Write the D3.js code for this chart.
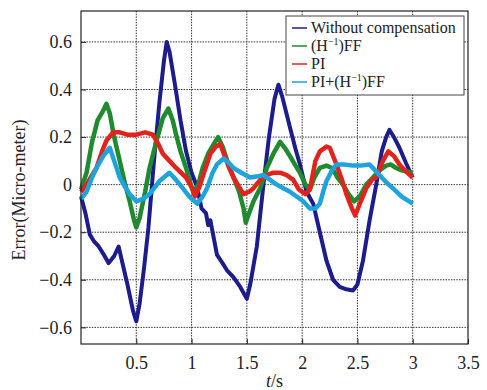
<!DOCTYPE html>
<html>
<head>
<meta charset="utf-8">
<script src="https://cdn.jsdelivr.net/npm/d3@7"></script>
<style>
  body { margin: 0; background: #fff; }
  svg text { font-family: "Liberation Serif", "DejaVu Serif", serif; fill: #222; }
  .grid line { stroke: #333; stroke-dasharray: 1.5,1.2; stroke-width: 1; }
  .axis .domain { display: none; }
  .axis text { font-size: 18px; }
</style>
</head>
<body>
<svg id="chart"></svg>
<script>
// values: [time (s), error (micro-meter)]
const withoutComp = [[0,-0.05],[0.04,-0.12],[0.08,-0.21],[0.12,-0.24],[0.16,-0.26],[0.2,-0.29],[0.25,-0.33],[0.3,-0.3],[0.34,-0.26],[0.36,-0.3],[0.42,-0.42],[0.47,-0.53],[0.5,-0.575],[0.53,-0.5],[0.57,-0.35],[0.61,-0.18],[0.66,0.1],[0.71,0.35],[0.75,0.52],[0.775,0.6],[0.8,0.56],[0.85,0.42],[0.9,0.27],[0.95,0.14],[1.0,0.05],[1.05,-0.01],[1.09,-0.1],[1.13,-0.12],[1.15,-0.17],[1.17,-0.15],[1.23,-0.295],[1.28,-0.33],[1.32,-0.36],[1.38,-0.39],[1.44,-0.43],[1.5,-0.48],[1.53,-0.42],[1.59,-0.26],[1.65,0],[1.7,0.2],[1.75,0.36],[1.785,0.42],[1.82,0.37],[1.89,0.24],[1.94,0.15],[1.98,0.085],[2.04,-0.03],[2.1,-0.08],[2.16,-0.2],[2.22,-0.32],[2.28,-0.4],[2.34,-0.43],[2.4,-0.44],[2.46,-0.445],[2.5,-0.42],[2.55,-0.32],[2.61,-0.15],[2.67,0],[2.72,0.14],[2.76,0.2],[2.79,0.23],[2.83,0.2],[2.88,0.155],[2.94,0.09],[3.0,0.03]];
const invFF = [[0,-0.02],[0.05,0.05],[0.1,0.18],[0.15,0.27],[0.2,0.31],[0.23,0.34],[0.26,0.3],[0.3,0.2],[0.35,0.1],[0.4,0.0],[0.44,-0.07],[0.48,-0.15],[0.5,-0.18],[0.53,-0.14],[0.58,-0.03],[0.62,0.07],[0.68,0.18],[0.74,0.28],[0.79,0.32],[0.83,0.27],[0.86,0.21],[0.9,0.14],[0.95,0.07],[1.0,-0.01],[1.02,-0.03],[1.06,0.0],[1.1,0.07],[1.15,0.13],[1.2,0.17],[1.24,0.2],[1.28,0.16],[1.33,0.09],[1.38,0.03],[1.43,-0.03],[1.47,-0.1],[1.49,-0.16],[1.52,-0.12],[1.56,-0.07],[1.62,-0.015],[1.68,0.07],[1.74,0.13],[1.8,0.18],[1.85,0.15],[1.89,0.12],[1.94,0.08],[1.98,0.05],[2.03,0.0],[2.07,-0.02],[2.11,0.03],[2.16,0.07],[2.22,0.08],[2.27,0.07],[2.32,0.03],[2.37,0.0],[2.42,-0.04],[2.47,-0.07],[2.52,-0.05],[2.58,0.0],[2.64,0.03],[2.7,0.06],[2.76,0.08],[2.8,0.085],[2.85,0.07],[2.9,0.06],[3.0,0.05]];
const piCtrl = [[0,-0.03],[0.05,0.0],[0.1,0.04],[0.14,0.07],[0.19,0.14],[0.23,0.185],[0.29,0.22],[0.35,0.22],[0.42,0.21],[0.5,0.21],[0.58,0.22],[0.65,0.21],[0.7,0.17],[0.74,0.13],[0.8,0.1],[0.86,0.07],[0.95,0.03],[1.0,-0.01],[1.03,-0.05],[1.07,-0.01],[1.12,0.06],[1.17,0.13],[1.22,0.16],[1.26,0.17],[1.3,0.12],[1.34,0.07],[1.38,0.03],[1.43,-0.01],[1.47,-0.04],[1.52,-0.03],[1.56,-0.015],[1.62,0.02],[1.68,0.04],[1.74,0.05],[1.8,0.05],[1.86,0.04],[1.92,0.02],[1.97,-0.02],[2.03,-0.04],[2.07,-0.02],[2.12,0.1],[2.16,0.14],[2.22,0.16],[2.25,0.155],[2.31,0.085],[2.36,0.02],[2.4,-0.04],[2.45,-0.1],[2.48,-0.13],[2.53,-0.07],[2.58,-0.015],[2.63,0.02],[2.67,0.03],[2.73,0.1],[2.78,0.14],[2.83,0.12],[2.88,0.085],[2.94,0.055],[3.0,0.03]];
const piFF = [[0,-0.06],[0.05,-0.03],[0.1,0.03],[0.14,0.07],[0.2,0.12],[0.26,0.155],[0.3,0.1],[0.35,0.03],[0.4,-0.01],[0.44,-0.04],[0.5,-0.07],[0.56,-0.06],[0.62,-0.04],[0.71,0.015],[0.8,0.05],[0.86,0.02],[0.92,-0.015],[0.98,-0.05],[1.05,-0.08],[1.1,-0.05],[1.14,-0.015],[1.19,0.05],[1.23,0.085],[1.29,0.11],[1.34,0.09],[1.38,0.07],[1.45,0.05],[1.53,0.03],[1.6,0.035],[1.65,0.04],[1.71,0.02],[1.77,0.0],[1.83,-0.015],[1.89,-0.03],[1.95,-0.05],[2.01,-0.07],[2.07,-0.1],[2.12,-0.1],[2.16,-0.08],[2.19,-0.03],[2.22,0.015],[2.27,0.06],[2.31,0.085],[2.38,0.085],[2.46,0.08],[2.53,0.08],[2.61,0.085],[2.66,0.06],[2.7,0.04],[2.76,0.01],[2.82,-0.015],[2.9,-0.05],[3.0,-0.08]];

const xTicks = [0.5, 1, 1.5, 2, 2.5, 3, 3.5];
const yTicks = [-0.6, -0.4, -0.2, 0, 0.2, 0.4, 0.6];
const seriesNames = ['Without compensation', '(H^-1)FF', 'PI', 'PI+(H^-1)FF'];
const seriesColors = ['#1c1c8c', '#1f8a2e', '#e3221b', '#1ea3dc'];

const SERIF = '"Liberation Serif", "DejaVu Serif", serif';
const W = 487, H = 390;
const margin = {top: 11, right: 19, bottom: 46, left: 81};
const width = W - margin.left - margin.right;
const height = H - margin.top - margin.bottom;

const svg = d3.select('#chart').attr('width', W).attr('height', H)
    .attr('font-family', SERIF);
const chart = svg.append('g').attr('transform', `translate(${margin.left},${margin.top})`);

const xScale = d3.scaleLinear().domain([0, 3.5]).range([0, width]);
const yScale = d3.scaleLinear().domain([-0.67, 0.73]).range([height, 0]);

// dotted grid
chart.append('g').attr('class', 'grid')
    .selectAll('line').data(xTicks.slice(0, -1)).join('line')
    .attr('x1', d => xScale(d)).attr('x2', d => xScale(d))
    .attr('y1', 0).attr('y2', height);
chart.append('g').attr('class', 'grid')
    .selectAll('line').data(yTicks).join('line')
    .attr('y1', d => yScale(d)).attr('y2', d => yScale(d))
    .attr('x1', 0).attr('x2', width);

// axes (d3 sets sans-serif on the group, so put the serif face back)
const fmt = d => d === 0 ? '0' : d3.format('.1f')(d).replace('-', '\u2212');
chart.append('g').attr('class', 'axis')
    .attr('transform', `translate(0,${height})`)
    .call(d3.axisBottom(xScale).tickValues(xTicks).tickSize(-5).tickPadding(12)
      .tickFormat(d => d % 1 === 0 ? d3.format('d')(d) : d3.format('.1f')(d)))
    .attr('font-family', SERIF).attr('font-size', 18)
    .call(g => g.selectAll('.tick line').attr('stroke', '#222'));
chart.append('g').attr('class', 'axis')
    .call(d3.axisLeft(yScale).tickValues(yTicks).tickSize(-5).tickPadding(9).tickFormat(fmt))
    .attr('font-family', SERIF).attr('font-size', 18)
    .call(g => g.selectAll('.tick line').attr('stroke', '#222'));

// curves
const line = d3.line().x(d => xScale(d[0])).y(d => yScale(d[1]));
const allSeries = [withoutComp, invFF, piCtrl, piFF];
chart.append('g').selectAll('path').data(allSeries).join('path')
    .attr('d', line)
    .attr('fill', 'none')
    .attr('stroke', (d, i) => seriesColors[i])
    .attr('stroke-width', (d, i) => i === 0 ? 4 : 4.5)
    .attr('stroke-linejoin', 'round');

// frame
chart.append('rect')
    .attr('width', width).attr('height', height)
    .attr('fill', 'none').attr('stroke', '#222').attr('stroke-width', 1.2);

// legend
const legend = chart.append('g').attr('transform', `translate(${205},${5})`);
legend.append('rect')
    .attr('width', 178).attr('height', 79)
    .attr('fill', '#fff').attr('stroke', '#444').attr('stroke-width', 1);
const rows = legend.selectAll('g.row').data(seriesNames).join('g')
    .attr('class', 'row')
    .attr('transform', (d, i) => `translate(0,${12 + i * 18})`);
rows.append('line')
    .attr('x1', 6).attr('x2', 21).attr('y1', 0).attr('y2', 0)
    .attr('stroke', (d, i) => seriesColors[i]).attr('stroke-width', 1.5);
rows.append('text')
    .attr('x', 25).attr('y', 5)
    .style('font-size', '16px')
    .each(function(d) {
      const t = d3.select(this);
      const parts = d.split('^-1');
      if (parts.length === 1) { t.text(d); return; }
      t.append('tspan').text(parts[0]);
      t.append('tspan').text('\u22121').style('font-size', '10px').attr('dy', -6);
      t.append('tspan').text(parts[1]).attr('dy', 6);
    });

// axis titles
svg.append('text')
    .attr('transform', `translate(25,${190}) rotate(-90)`)
    .attr('text-anchor', 'middle')
    .style('font-size', '18px')
    .text('Error(Micro-meter)');
const xt = svg.append('text')
    .attr('x', margin.left + xScale(1.75)).attr('y', 387)
    .attr('text-anchor', 'middle')
    .style('font-size', '18px');
xt.append('tspan').style('font-style', 'italic').text('t');
xt.append('tspan').text('/s');
</script>
</body>
</html>
